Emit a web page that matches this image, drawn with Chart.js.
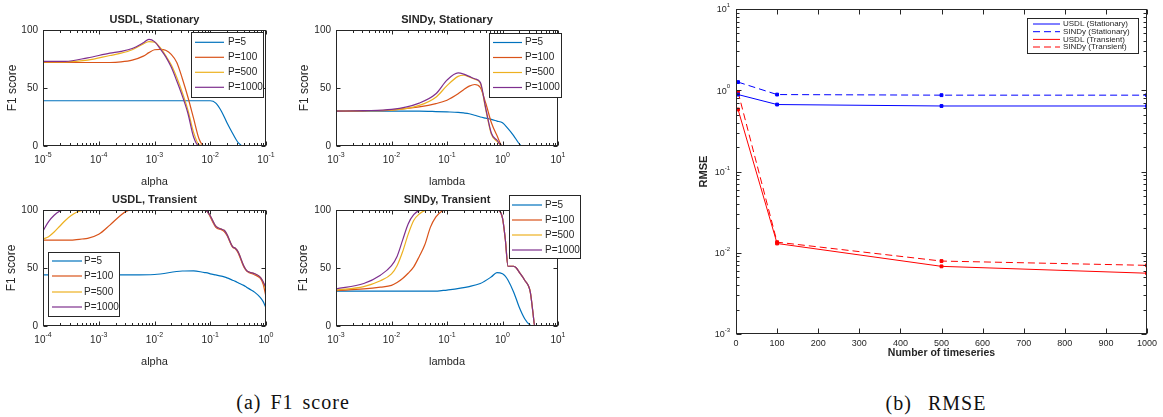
<!DOCTYPE html>
<html>
<head>
<meta charset="utf-8">
<title>F1 score / RMSE</title>
<script src="https://cdn.jsdelivr.net/npm/chart.js@4.4.1/dist/chart.umd.min.js"></script>
<style>
  body { margin: 0; background: #fff; width: 1163px; height: 417px; position: relative; overflow: hidden; }
  .plot { position: absolute; }
  .cap { position: absolute; width: 240px; text-align: center; font-family: "Liberation Serif", serif;
         font-size: 20px; color: #111; letter-spacing: 1px; }
</style>
</head>
<body>
<div class="plot" style="left:0;top:0"><canvas id="usdlStat" width="290" height="190"></canvas></div>
<div class="plot" style="left:280px;top:0"><canvas id="sindyStat" width="302" height="190"></canvas></div>
<div class="plot" style="left:0;top:190px"><canvas id="usdlTrans" width="290" height="190"></canvas></div>
<div class="plot" style="left:280px;top:190px"><canvas id="sindyTrans" width="302" height="190"></canvas></div>
<div class="plot" style="left:660px;top:0"><canvas id="rmse" width="503" height="380"></canvas></div>
<div class="cap" style="left:173px;top:391px;word-spacing:3px">(a) F1 score</div>
<div class="cap" style="left:816px;top:392px;word-spacing:10px">(b) RMSE</div>
<script>
// F1 score vs regularisation (4 subplots) + RMSE vs number of timeseries
// Librerias: Chart.js

//---- DATA: x given as log10 exponent, y = F1 score
const pLabels = ['P=5', 'P=100', 'P=500', 'P=1000'];

// USDL, Stationary (alpha)
const usdlStatExp  = [-5,-4.6,-4.2,-3.8,-3.6,-3.4,-3.2,-3.1,-3.0,-2.9,-2.8,-2.7,-2.6,-2.5,-2.4,-2.3,-2.2,-2.1,-2.0,-1.9,-1.8,-1.7,-1.6,-1.5,-1.4,-1.3,-1.0];
const usdlStatP5    = [39,39,39,39,39,39,39,39,39,39,39,39,39,39,39,39,39,39,39,37,30,20,11,3,0,0,0];
const usdlStatP100  = [72,72,72,72,72.5,74,77.5,80.5,83,83.3,82.5,79,72,58,42,24,6,0,0,0,0,0,0,0,0,0,0];
const usdlStatP500  = [72.5,72.5,74,78,80,83,88,90,89.5,85,78,70,59,46,31,12,1,0,0,0,0,0,0,0,0,0,0];
const usdlStatP1000 = [73,73,76,80,81.5,84,89,92,90,84,77,68,56,43,28,8,0,0,0,0,0,0,0,0,0,0,0];

// SINDy, Stationary (lambda)
const sindyStatExp   = [-3,-2.5,-2,-1.5,-1.2,-1,-0.8,-0.7,-0.6,-0.5,-0.4,-0.3,-0.2,-0.1,0,0.1,0.2,0.3,0.35,0.5,1];
const sindyStatP5    = [30,30,30,30,29.7,29.4,29,28.5,27.8,26.5,25,24,23,21.5,20,15,9,2,0,0,0];
const sindyStatP100  = [30,30.3,31,33.7,36.5,39.5,45,48.5,51.6,53,50.4,36.6,20,9,0,0,0,0,0,0,0];
const sindyStatP500  = [30,30.5,31,35,42,52,60,61,59.5,57.5,54,31,10,4,0,0,0,0,0,0,0];
const sindyStatP1000 = [30,30.5,31.5,37,45,56.8,63,62,60,58,55,32,11,5,0,0,0,0,0,0,0];

// USDL, Transient (alpha)
const usdlTransExp   = [-4,-3.9,-3.8,-3.7,-3.6,-3.5,-3.4,-3.3,-3.2,-3.0,-2.8,-2.6,-2.5,-2.4,-2.0,-1.5,-1.3,-1.1,-1.05,-1.0,-0.9,-0.8,-0.75,-0.7,-0.6,-0.55,-0.5,-0.4,-0.35,-0.3,-0.2,-0.1,-0.05,0];
const usdlTransP5    = [44,44,44,44,44,44,44,44,44,44,44,44,44,44,44.4,47.4,47.6,46,45.8,45,44,43,42.3,41.5,39.5,38.5,37.3,35,33.5,32,29,24.5,21,15.6];
const usdlTransP100  = [74,74,74,74,74,74,74.5,75,75.5,79,87,95.7,99,100,100,100,100,100,98.5,94,85,83,81.5,78,68,66.5,63,51,47.5,46,44,41,36,25];
const usdlTransP500  = [75,77,81,86,91,95,98,99.7,100,100,100,100,100,100,100,100,100,100,98.5,95,86,83.5,82.5,79,68.5,67,64,52,48,46.5,45,42,38,31];
const usdlTransP1000 = [82,90,95.5,99,100,100,100,100,100,100,100,100,100,100,100,100,100,100,98.5,95,86,83.5,82.5,79,68.5,67,64,52,48,46.5,45,42,38,33];

// SINDy, Transient (lambda)
const sindyTransExp   = [-3,-2.5,-2.2,-2.0,-1.9,-1.8,-1.7,-1.6,-1.5,-1.4,-1.3,-1.2,-1.1,-1.0,-0.6,-0.4,-0.2,-0.1,0,0.05,0.1,0.2,0.25,0.3,0.4,0.5,0.55,0.58,0.6,1];
const sindyTransP5    = [30,30,30,30,30,30,30,30,30,30,30,30,30.5,31,34,36.6,42.4,46,45,43,39.5,29.4,23,16.4,6.3,0.6,0,0,0,0];
const sindyTransP100  = [30.5,32,33.5,35,37.5,41,45.5,51,60,70,85,94,98.8,100,100,100,100,100,93,75,51.5,51.5,50,46.5,39.5,29.5,11,0,0,0];
const sindyTransP500  = [31,34,39,45,52,64,79,91,96.5,99.5,100,100,100,100,100,100,100,100,93,75,51.5,51.5,50,46.5,39.5,29.5,11,0,0,0];
const sindyTransP1000 = [32,36.6,43.8,52,60,74,88,96,99.5,100,100,100,100,100,100,100,100,100,93,75,51.5,51.5,50,46.5,39.5,29.5,11,0,0,0];

// RMSE vs number of timeseries
const rmseX          = [5, 100, 500, 1000];
const usdlStatRmse   = [0.885, 0.667, 0.64, 0.64];
const sindyStatRmse  = [1.26, 0.885, 0.87, 0.87];
const usdlTransRmse  = [0.58, 0.013, 0.0068, 0.0056];
const sindyTransRmse = [0.95, 0.0135, 0.0079, 0.0070];
const rmseLabels = ['USDL (Stationary)', 'SINDy (Stationary)', 'USDL (Transient)', 'SINDy (Transient)'];

//---- STYLE
const INK = '#262626';
const FONT = '"Liberation Sans", Arial, sans-serif';
const f1Colors = ['#0072BD', '#D95319', '#EDB120', '#7E2F8E'];

//---- helpers
function pts(xs, ys){
  return xs.map((x, i) => ({ x: x, y: ys[i] }));
}

function logTicks(e0, e1, major, minor){
  let out = [];
  for (let e = e0; e <= e1; e++){
    out.push({ v: Math.pow(10, e), len: major });
    if (e < e1) for (let k = 2; k < 10; k++) out.push({ v: k * Math.pow(10, e), len: minor });
  }
  return out;
}

function range(a, b){
  let out = [];
  for (let e = a; e <= b; e++) out.push(e);
  return out;
}

// "10" + superscript exponent
function drawPow(ctx, x, y, exp, size, align){
  const ss = Math.round(size * 0.72);
  ctx.font = size + 'px ' + FONT;
  const wb = ctx.measureText('10').width;
  ctx.font = ss + 'px ' + FONT;
  const ws = ctx.measureText(String(exp)).width;
  const x0 = align === 'right' ? x - wb - ws : x - (wb + ws) / 2;
  ctx.textAlign = 'left';
  ctx.textBaseline = 'middle';
  ctx.font = size + 'px ' + FONT;
  ctx.fillText('10', x0, y);
  ctx.font = ss + 'px ' + FONT;
  ctx.fillText(String(exp), x0 + wb, y - size * 0.5);
}

//---- matlab style box, inward ticks, log labels, title and floating legend
const matlabAxes = {
  id: 'matlabAxes',
  afterDraw(chart, args, o){
    const ctx = chart.ctx, a = chart.chartArea;
    const xs = chart.scales.x, ys = chart.scales.y;
    ctx.save();
    ctx.strokeStyle = INK;
    ctx.fillStyle = INK;
    ctx.lineWidth = 1;
    ctx.setLineDash([]);
    const seg = (x1, y1, x2, y2) => { ctx.beginPath(); ctx.moveTo(x1, y1); ctx.lineTo(x2, y2); ctx.stroke(); };
    const L = Math.round(a.left) + 0.5, R = Math.round(a.right) - 0.5;
    const T = Math.round(a.top) + 0.5, B = Math.round(a.bottom) - 0.5;

    (o.xTicks || []).forEach(t => {
      const p = Math.round(xs.getPixelForValue(t.v)) + 0.5;
      seg(p, B, p, B - t.len); seg(p, T, p, T + t.len);
    });
    (o.yTicks || []).forEach(t => {
      const p = Math.round(ys.getPixelForValue(t.v)) + 0.5;
      seg(L, p, L + t.len, p); seg(R, p, R - t.len, p);
    });
    ctx.strokeRect(L, T, R - L, B - T);

    if (o.xPow){
      o.xPow.exps.forEach(e => drawPow(ctx, xs.getPixelForValue(Math.pow(10, e)), a.bottom + o.xPow.dy, e, o.xPow.size, 'center'));
    }
    if (o.yPow){
      o.yPow.exps.forEach(e => drawPow(ctx, a.left - o.yPow.dx, ys.getPixelForValue(Math.pow(10, e)) + 1, e, o.yPow.size, 'right'));
    }
    if (o.title){
      ctx.font = 'bold 11px ' + FONT;
      ctx.textAlign = 'center';
      ctx.textBaseline = 'middle';
      ctx.fillText(o.title.text, (a.left + a.right) / 2, o.title.y);
    }
    if (o.legend){
      const lg = o.legend;
      ctx.fillStyle = '#fff';
      ctx.fillRect(lg.x, lg.y, lg.w, lg.h);
      ctx.strokeStyle = INK;
      ctx.strokeRect(lg.x + 0.5, lg.y + 0.5, lg.w, lg.h);
      ctx.font = lg.size + 'px ' + FONT;
      ctx.textAlign = 'left';
      ctx.textBaseline = 'middle';
      chart.data.datasets.forEach((ds, i) => {
        const yy = lg.y + lg.rows[i];
        ctx.strokeStyle = ds.borderColor;
        ctx.lineWidth = ds.borderWidth;
        ctx.setLineDash(ds.borderDash || []);
        seg(lg.x0, yy, lg.x1, yy);
        ctx.setLineDash([]);
        ctx.fillStyle = INK;
        ctx.fillText(ds.label, lg.tx, yy);
      });
    }
    ctx.restore();
  }
};

//---- F1 subplots
function f1Sets(exps, series){
  const xs = exps.map(e => Math.pow(10, e));
  return series.map((ys, i) => ({
    label: pLabels[i],
    data: pts(xs, ys),
    borderColor: f1Colors[i],
    borderWidth: 1.2,
    pointRadius: 0,
    fill: false,
    cubicInterpolationMode: 'monotone',
    order: 4 - i
  }));
}

function drawF1(id, c){
  new Chart(document.getElementById(id), {
    type: 'line',
    data: { datasets: f1Sets(c.exps, c.series) },
    options: {
      responsive: false, animation: false, devicePixelRatio: 1, events: [],
      layout: { padding: { left: 0, top: c.top, right: c.right, bottom: 0 } },
      plugins: {
        legend: { display: false }, tooltip: { enabled: false }, title: { display: false },
        matlabAxes: {
          xTicks: logTicks(c.e0, c.e1, 4, 2.5),
          yTicks: [{ v: 0, len: 4 }, { v: 50, len: 4 }, { v: 100, len: 4 }],
          xPow: { exps: range(c.e0, c.e1), dy: 14, size: 10 },
          title: { text: c.title, y: c.titleY },
          legend: c.legend
        }
      },
      scales: {
        x: {
          type: 'logarithmic', min: Math.pow(10, c.e0), max: Math.pow(10, c.e1),
          afterFit: s => { s.height = c.xh; },
          ticks: { display: false }, grid: { display: false }, border: { display: false },
          title: { display: true, text: c.xlabel, color: INK, font: { family: FONT, size: 11 }, padding: { top: 0, bottom: c.xpb } }
        },
        y: {
          type: 'linear', min: 0, max: 100,
          afterFit: s => { s.width = c.yw; },
          ticks: { stepSize: 50, color: INK, padding: 5, font: { family: FONT, size: 10 } },
          grid: { display: false, drawTicks: false }, border: { display: false },
          title: { display: true, text: 'F1 score', color: INK, font: { family: FONT, size: 12 }, padding: { top: c.ypt, bottom: 0 } }
        }
      }
    },
    plugins: [matlabAxes]
  });
}

drawF1('usdlStat', {
  exps: usdlStatExp, series: [usdlStatP5, usdlStatP100, usdlStatP500, usdlStatP1000],
  e0: -5, e1: -1, title: 'USDL, Stationary', titleY: 20, xlabel: 'alpha',
  top: 30, right: 24, xh: 44, yw: 43, xpb: 1.4, ypt: 5.3,
  legend: { x: 191, y: 32, w: 72, h: 65, rows: [10.3, 25.3, 40.3, 55.3], x0: 195, x1: 224, tx: 228, size: 10 }
});

drawF1('sindyStat', {
  exps: sindyStatExp, series: [sindyStatP5, sindyStatP100, sindyStatP500, sindyStatP1000],
  e0: -3, e1: 1, title: 'SINDy, Stationary', titleY: 20, xlabel: 'lambda',
  top: 30, right: 24, xh: 44, yw: 56, xpb: 1.4, ypt: 17.3,
  legend: { x: 209, y: 33, w: 72, h: 64, rows: [9.5, 24.5, 39.5, 54.5], x0: 213, x1: 242, tx: 245, size: 10 }
});

drawF1('usdlTrans', {
  exps: usdlTransExp, series: [usdlTransP5, usdlTransP100, usdlTransP500, usdlTransP1000],
  e0: -4, e1: 0, title: 'USDL, Transient', titleY: 9.5, xlabel: 'alpha',
  top: 20, right: 24, xh: 54, yw: 43, xpb: 11.4, ypt: 4.3,
  legend: { x: 48, y: 62, w: 71, h: 64, rows: [9, 24, 40, 55], x0: 52, x1: 82, tx: 84, size: 10 }
});

drawF1('sindyTrans', {
  exps: sindyTransExp, series: [sindyTransP5, sindyTransP100, sindyTransP500, sindyTransP1000],
  e0: -3, e1: 1, title: 'SINDy, Transient', titleY: 9.5, xlabel: 'lambda',
  top: 20, right: 24, xh: 54, yw: 56, xpb: 11.4, ypt: 16.3,
  legend: { x: 229, y: 5, w: 71, h: 63, rows: [10, 25, 40, 55], x0: 232, x1: 262, tx: 265, size: 10 }
});

//---- RMSE
const rmseSets = [
  { label: rmseLabels[0], data: pts(rmseX, usdlStatRmse),   borderColor: '#0000FF', backgroundColor: '#0000FF', borderWidth: 1 },
  { label: rmseLabels[1], data: pts(rmseX, sindyStatRmse),  borderColor: '#0000FF', backgroundColor: '#0000FF', borderWidth: 1, borderDash: [7, 4] },
  { label: rmseLabels[2], data: pts(rmseX, usdlTransRmse),  borderColor: '#FF0000', backgroundColor: '#FF0000', borderWidth: 1 },
  { label: rmseLabels[3], data: pts(rmseX, sindyTransRmse), borderColor: '#FF0000', backgroundColor: '#FF0000', borderWidth: 1, borderDash: [7, 4] }
].map(ds => Object.assign(ds, { pointStyle: 'rect', pointRadius: 2, fill: false, tension: 0 }));

new Chart(document.getElementById('rmse'), {
  type: 'line',
  data: { datasets: rmseSets },
  options: {
    responsive: false, animation: false, devicePixelRatio: 1, events: [],
    layout: { padding: { left: 0, top: 9, right: 16, bottom: 0 } },
    plugins: {
      legend: { display: false }, tooltip: { enabled: false }, title: { display: false },
      matlabAxes: {
        xTicks: [0,100,200,300,400,500,600,700,800,900,1000].map(v => ({ v: v, len: 5 })),
        yTicks: logTicks(-3, 1, 5, 3),
        yPow: { exps: range(-3, 1), dx: 6, size: 9 },
        legend: { x: 367, y: 18, w: 111, h: 35, rows: [6, 13.7, 21.4, 29], x0: 373, x1: 400, tx: 403, size: 8 }
      }
    },
    scales: {
      x: {
        type: 'linear', min: 0, max: 1000,
        afterFit: s => { s.height = 46; },
        ticks: { stepSize: 100, color: INK, padding: 4, font: { family: FONT, size: 9 }, callback: v => String(v) },
        grid: { display: false, drawTicks: false }, border: { display: false },
        title: { display: true, text: 'Number of timeseries', color: INK, font: { family: FONT, size: 10.5, weight: 'bold' }, padding: { top: 0, bottom: 20.7 } }
      },
      y: {
        type: 'logarithmic', min: 0.001, max: 10,
        afterFit: s => { s.width = 76; },
        ticks: { display: false }, grid: { display: false }, border: { display: false },
        title: { display: true, text: 'RMSE', color: INK, font: { family: FONT, size: 11, weight: 'bold' }, padding: { top: 37.4, bottom: 0 } }
      }
    }
  },
  plugins: [matlabAxes]
});
</script>
</body>
</html>
